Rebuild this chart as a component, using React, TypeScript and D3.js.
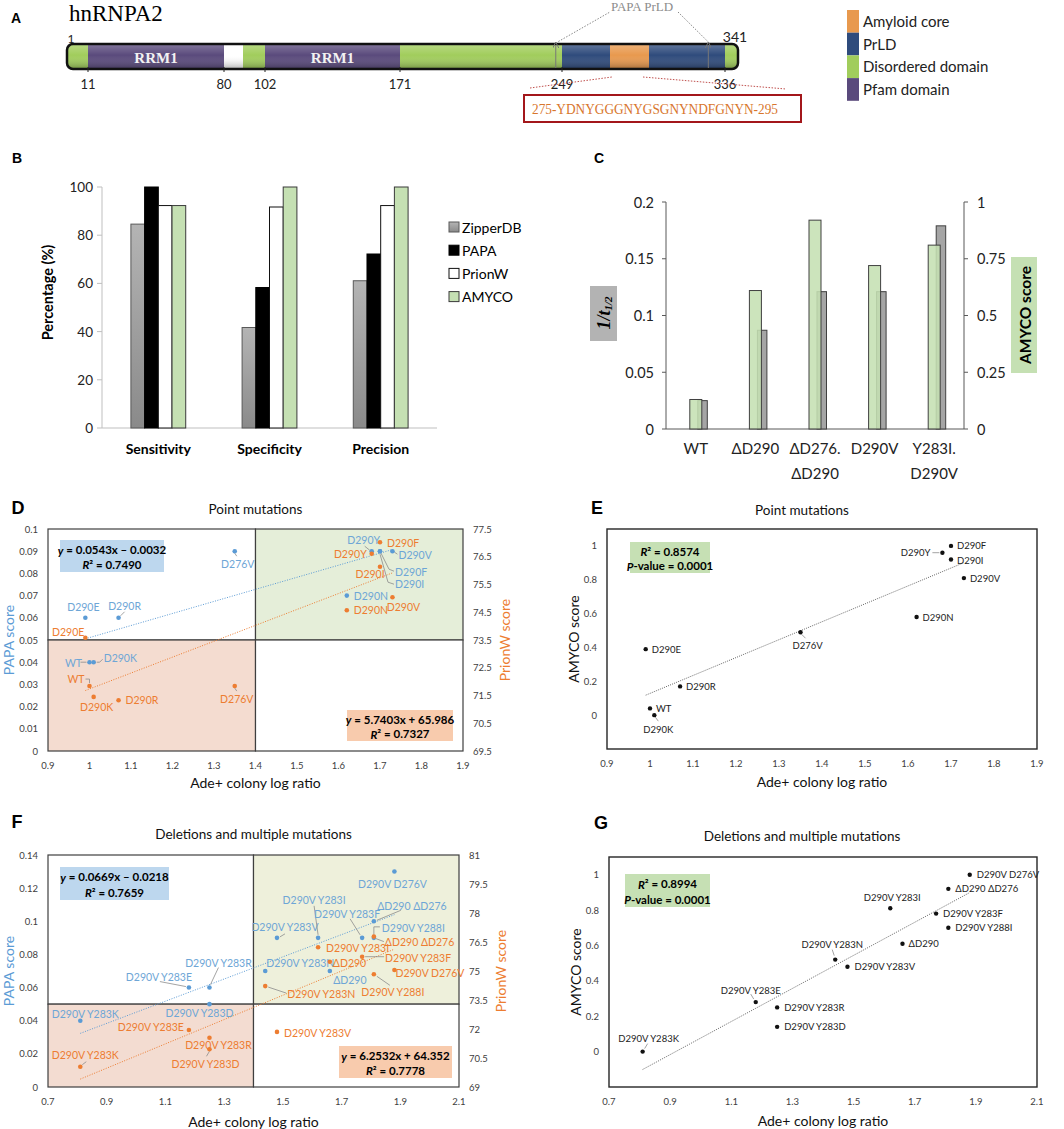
import React from "react";
import * as d3 from "d3";

// ---------- A: hnRNPA2 domain map ----------
const residueBreaks = [1, 11, 80, 90, 102, 171, 249, 275, 295, 336, 341];
const segStart = [1, 11, 80, 90, 102, 171, 249, 275, 295, 336];
const segEnd = [11, 80, 90, 102, 171, 249, 275, 295, 336, 341];
const segType = ["Disordered domain", "Pfam domain", "gap", "Disordered domain", "Pfam domain", "Disordered domain", "PrLD", "Amyloid core", "PrLD", "Disordered domain"];
const belowTicks = [11, 80, 102, 171, 249, 336];
const aboveTicks = [1, 341];
const papaPrld = [246, 327];
const coreSeq = "275-YDNYGGGNYGSGNYNDFGNYN-295";
const legendA = ["Amyloid core", "PrLD", "Disordered domain", "Pfam domain"];

// ---------- B: predictor performance ----------
const metrics = ["Sensitivity", "Specificity", "Precision"];
const predictors = ["ZipperDB", "PAPA", "PrionW", "AMYCO"];
const zipperdbPct = [84.6, 41.7, 61.1];
const papaPct = [100, 58.3, 72.2];
const prionwPct = [92.3, 91.7, 92.3];
const amycoPct = [92.3, 100, 100];
const pctTicks = [0, 20, 40, 60, 80, 100];

// ---------- C: aggregation rate vs AMYCO ----------
const variantsC = ["WT", "ΔD290", "ΔD276.\nΔD290", "D290V", "Y283I.\nD290V"];
const invHalfLife = [0.025, 0.087, 0.121, 0.121, 0.179];
const amycoC = [0.13, 0.61, 0.92, 0.72, 0.81];
const halfLifeTicks = [0, 0.05, 0.1, 0.15, 0.2];
const amycoTicksC = [0, 0.25, 0.5, 0.75, 1];

// ---------- D/E: point mutations ----------
const pointNames = ["WT", "D290E", "D290R", "D290K", "D276V", "D290N", "D290Y", "D290F", "D290I", "D290V"];
const pointAde = [1.0, 0.99, 1.07, 1.01, 1.35, 1.62, 1.68, 1.7, 1.7, 1.73];
const pointPapa = [0.04, 0.06, 0.06, 0.04, 0.09, 0.07, 0.09, 0.09, 0.09, 0.09];
const pointPrionW = [71.84, 73.58, 71.33, 71.45, 71.84, 74.57, 76.61, 77.02, 76.14, 75.04];
const pointAmyco = [0.04, 0.39, 0.17, 0.0, 0.49, 0.58, 0.96, 1.0, 0.92, 0.81];
const dXTicks = [0.9, 1, 1.1, 1.2, 1.3, 1.4, 1.5, 1.6, 1.7, 1.8, 1.9];
const dPapaTicks = [0, 0.01, 0.02, 0.03, 0.04, 0.05, 0.06, 0.07, 0.08, 0.09, 0.1];
const dPrionTicks = [69.5, 70.5, 71.5, 72.5, 73.5, 74.5, 75.5, 76.5, 77.5];

// ---------- F/G: deletions and multiple mutations ----------
const multiNames = ["D290V Y283K", "D290V Y283E", "D290V Y283R", "D290V Y283D", "D290V Y283N", "D290V Y283V", "D290V Y283I", "ΔD290", "D290V Y283F", "ΔD290 ΔD276", "D290V Y288I", "D290V D276V"];
const multiAde = [0.81, 1.18, 1.25, 1.25, 1.44, 1.48, 1.62, 1.66, 1.77, 1.81, 1.81, 1.88];
const multiPapa = [0.04, 0.06, 0.06, 0.05, 0.07, 0.09, 0.09, 0.07, 0.09, 0.1, 0.09, 0.13];
const multiPrionW = [70.05, 71.95, 71.55, 70.95, 74.22, 71.85, 76.23, 75.48, 75.74, 76.78, 74.83, 75.05];
const multiAmyco = [0.0, 0.28, 0.25, 0.14, 0.52, 0.48, 0.81, 0.61, 0.78, 0.92, 0.7, 1.0];
const fXTicks = [0.7, 0.9, 1.1, 1.3, 1.5, 1.7, 1.9, 2.1];
const fPapaTicks = [0, 0.02, 0.04, 0.06, 0.08, 0.1, 0.12, 0.14];
const fPrionTicks = [69, 70.5, 72, 73.5, 75, 76.5, 78, 79.5, 81];
const amycoTicks = [0, 0.2, 0.4, 0.6, 0.8, 1];

// label placement (layout only)
type Lab = { dx?: number; dy?: number; a?: "start" | "middle" | "end"; ld?: [number, number][] };
const pointPapaLab: Record<string, Lab> = {
  WT: { dx: -16, dy: 1, a: "middle", ld: [[-9, 0], [-3, 0]] },
  D290E: { dx: -2, dy: -11, a: "middle" },
  D290R: { dx: 6, dy: -12, a: "middle", ld: [[2, -2], [6, -6]] },
  D290K: { dx: 10, dy: -4, a: "start", ld: [[3, 0], [6, 0], [9, -3]] },
  D276V: { dx: 3, dy: 13, a: "middle", ld: [[0, 2], [2, 5]] },
  D290N: { dx: 7 },
  D290Y: { dx: -8, dy: -11, a: "middle", ld: [[-7, -5], [-2, -1]] },
  D290F: { dx: 15, dy: 21, ld: [[1, 2], [9, 18], [14, 20]] },
  D290I: { dx: 15, dy: 33, ld: [[0, 3], [8, 31], [14, 33]] },
  D290V: { dx: 6, dy: 4, ld: [[2, 1], [5, 3]] },
};
const pointPrionLab: Record<string, Lab> = {
  WT: { dx: -5, dy: -7, a: "end", ld: [[-4, -7], [0, -7], [0, -3]] },
  D290E: { dx: -1, dy: -6, a: "end" },
  D290R: { dx: 7 },
  D290K: { dx: 3, dy: 10, a: "middle" },
  D276V: { dx: 2, dy: 13, a: "middle", ld: [[0, 2], [2, 5]] },
  D290N: { dx: 7 },
  D290Y: { dx: -5, a: "end" },
  D290F: { dx: 7, dy: 1 },
  D290I: { dx: -10, dy: 7, a: "middle" },
  D290V: { dx: 11, dy: 10, a: "middle" },
};
const pointAmycoLab: Record<string, Lab> = {
  WT: { dx: 6 },
  D290E: { dx: 6 },
  D290R: { dx: 6 },
  D290K: { dx: 4, dy: 14, a: "middle", ld: [[1, 2], [4, 6]] },
  D276V: { dx: 7, dy: 13, a: "middle", ld: [[1, 2], [5, 6]] },
  D290N: { dx: 6 },
  D290Y: { dx: -12, a: "end", ld: [[-10, 0], [-3, 0]] },
  D290F: { dx: 6 },
  D290I: { dx: 6, dy: 1 },
  D290V: { dx: 6 },
};
const multiPapaLab: Record<string, Lab> = {
  "D290V Y283K": { dx: 5, dy: -7, a: "middle" },
  "D290V Y283E": { dx: -30, dy: -11, a: "middle", ld: [[-29, -6], [-3, -1]] },
  "D290V Y283R": { dx: 9, dy: -25, a: "middle", ld: [[1, -3], [9, -20]] },
  "D290V Y283D": { dx: -10, dy: 9, a: "middle" },
  "D290V Y283N": { dx: 1, dy: -8 },
  "D290V Y283V": { dx: 8, dy: -11, a: "middle", ld: [[3, -1], [8, -4]] },
  "D290V Y283I": { dx: -4, dy: -38, a: "middle", ld: [[-4, -32], [0, -3]] },
  "ΔD290": { dx: 20, dy: 9, a: "middle" },
  "D290V Y283F": { dx: -15, dy: -24, a: "middle", ld: [[-12, -19], [-2, -3]] },
  "ΔD290 ΔD276": { dx: 38, dy: -15, a: "middle", ld: [[3, -1], [27, -11]] },
  "D290V Y288I": { dx: 8, dy: -10, ld: [[0, -3], [0, -11], [6, -11]] },
  "D290V D276V": { dx: -2, dy: 12, a: "middle" },
};
const multiPrionLab: Record<string, Lab> = {
  "D290V Y283K": { dx: 5, dy: -12, a: "middle", ld: [[2, -2], [6, -5]] },
  "D290V Y283E": { dx: -5, dy: -3, a: "end" },
  "D290V Y283R": { dx: 9, dy: 7, a: "middle" },
  "D290V Y283D": { dx: -4, dy: 15, a: "middle", ld: [[0, 2], [-3, 7]] },
  "D290V Y283N": { dx: 22, dy: 8, ld: [[3, 1], [21, 7]] },
  "D290V Y283V": { dx: 7, dy: 1 },
  "D290V Y283I": { dx: 8, dy: 1 },
  "ΔD290": { dx: 3, dy: 1 },
  "D290V Y283F": { dx: 23, dy: 1, ld: [[3, 0], [22, 0]] },
  "ΔD290 ΔD276": { dx: 11, dy: 5, ld: [[2, 2], [10, 5]] },
  "D290V Y288I": { dx: 19, dy: 18, a: "middle", ld: [[3, 2], [16, 11]] },
  "D290V D276V": { dx: 1, dy: 3 },
};
const multiAmycoLab: Record<string, Lab> = {
  "D290V Y283K": { dx: 6, dy: -13, a: "middle", ld: [[5, -8], [2, -3]] },
  "D290V Y283E": { dx: -5, dy: -12, a: "middle", ld: [[-5, -8], [-2, -3]] },
  "D290V Y283R": { dx: 7 },
  "D290V Y283D": { dx: 7 },
  "D290V Y283N": { dx: -3, dy: -15, a: "middle", ld: [[-3, -10], [-1, -4]] },
  "D290V Y283V": { dx: 7 },
  "D290V Y283I": { dx: 2, dy: -11, a: "middle" },
  "ΔD290": { dx: 6 },
  "D290V Y283F": { dx: 7 },
  "ΔD290 ΔD276": { dx: 7 },
  "D290V Y288I": { dx: 7 },
  "D290V D276V": { dx: 7 },
};

const sans = "Lato, 'Open Sans', sans-serif";
const serif = "'Liberation Serif', 'DejaVu Serif', serif";
const arial = "'Liberation Sans', Arial, sans-serif";
const BLUE = "#5b9bd5";
const BLUE_TXT = "#6ea6d6";
const ORANGE = "#ed7d31";
const AXIS_TXT = "#404040";

function fit(xs: number[], ys: number[]) {
  const mx = d3.mean(xs)!, my = d3.mean(ys)!;
  let sxy = 0, sxx = 0;
  xs.forEach((x, i) => {
    sxy += (x - mx) * (ys[i] - my);
    sxx += (x - mx) * (x - mx);
  });
  const m = sxy / sxx;
  return { m, b: my - m * mx };
}

const fmt = (v: number) => String(+v.toFixed(3));

function ItalicFirst({ s }: { s: string }) {
  return (
    <>
      <tspan fontStyle="italic">{s[0]}</tspan>
      {s.slice(1)}
    </>
  );
}

function EqBox({ x, y, w, h, fill, lines }: { x: number; y: number; w: number; h: number; fill: string; lines: string[] }) {
  return (
    <g>
      <rect x={x} y={y} width={w} height={h} fill={fill} />
      {lines.map((l, i) => (
        <text key={i} x={x + w / 2} y={y + h * (i === 0 ? 0.3 : 0.76)} textAnchor="middle" dominantBaseline="central" fontWeight="bold" fontSize={11.5} fontFamily={sans}>
          <ItalicFirst s={l} />
        </text>
      ))}
    </g>
  );
}

function PointLabel({ px, py, name, lab, color, size }: { px: number; py: number; name: string; lab: Lab; color: string; size: number }) {
  return (
    <g>
      {lab.ld && (
        <polyline points={lab.ld.map(([a, b]) => `${px + a},${py + b}`).join(" ")} fill="none" stroke="#8c8c8c" strokeWidth={0.8} />
      )}
      <text x={px + (lab.dx ?? 0)} y={py + (lab.dy ?? 0)} textAnchor={lab.a ?? "start"} dominantBaseline="central" fontSize={size} fill={color}>
        {name}
      </text>
    </g>
  );
}

// ---------- A ----------
function PanelA() {
  const rx = d3.scaleLinear().domain(residueBreaks).range([69, 88, 224, 243, 265, 400, 562, 610, 649, 725, 735]);
  const fill: Record<string, string> = {
    "Amyloid core": "#e8994e",
    PrLD: "#2f4b7c",
    "Disordered domain": "#a1cd5c",
    "Pfam domain": "#5a4a7c",
    gap: "#ffffff",
  };
  const y0 = 44, h = 25;
  const left = rx(1) - 2, right = rx(341) + 3;
  const pfam = segType.map((t, i) => (t === "Pfam domain" ? i : -1)).filter((i) => i >= 0);
  return (
    <g>
      <defs>
        <clipPath id="barClip">
          <rect x={left} y={y0} width={right - left} height={h} rx={6} />
        </clipPath>
        <linearGradient id="gloss" x1="0" y1="0" x2="0" y2="1">
          <stop offset="0" stopColor="#fff" stopOpacity={0.25} />
          <stop offset="0.45" stopColor="#fff" stopOpacity={0} />
          <stop offset="1" stopColor="#000" stopOpacity={0.3} />
        </linearGradient>
      </defs>
      <text x={16} y={18} fontFamily={arial} fontWeight="bold" fontSize={14} textAnchor="middle" dominantBaseline="central">A</text>
      <text x={69} y={21} fontFamily={serif} fontSize={23}>hnRNPA2</text>
      <g clipPath="url(#barClip)">
        {segStart.map((s, i) => {
          const xa = i === 0 ? left : rx(s);
          const xb = i === segStart.length - 1 ? right : rx(segEnd[i]);
          return <rect key={i} x={xa} y={y0} width={xb - xa} height={h} fill={fill[segType[i]]} />;
        })}
        <rect x={left} y={y0} width={right - left} height={h} fill="url(#gloss)" />
      </g>
      <rect x={left} y={y0} width={right - left} height={h} rx={6} fill="none" stroke="#111" strokeWidth={2.5} />
      {pfam.map((i) => (
        <text key={i} x={(rx(segStart[i]) + rx(segEnd[i])) / 2} y={y0 + h / 2 + 1} textAnchor="middle" dominantBaseline="central" fontFamily={serif} fontWeight="bold" fontSize={15} fill="#f2f2f2">
          RRM1
        </text>
      ))}
      {belowTicks.map((t) => (
        <g key={t}>
          <line x1={rx(t)} x2={rx(t)} y1={y0 + h - 2} y2={y0 + h + 3} stroke="#222" strokeWidth={1} />
          <text x={rx(t)} y={y0 + h + 15} textAnchor="middle" dominantBaseline="central" fontFamily={sans} fontSize={13} fill="#222">{t}</text>
        </g>
      ))}
      {aboveTicks.map((t, i) => (
        <text key={t} x={rx(t) + (i === 0 ? 2 : 0)} y={i === 0 ? 38 : 36} textAnchor="middle" dominantBaseline="central" fontFamily={sans} fontSize={i === 0 ? 12 : 14} fill="#222">{t}</text>
      ))}
      {/* PAPA PrLD */}
      {papaPrld.map((r) => (
        <line key={r} x1={rx(r)} x2={rx(r)} y1={y0 + h - 1} y2={y0 + 1} stroke="#777" strokeWidth={1} markerEnd="url(#arrowG)" />
      ))}
      <defs>
        <marker id="arrowG" viewBox="0 0 6 6" refX={3} refY={3} markerWidth={6} markerHeight={6} orient="auto">
          <path d="M0,0 L6,3 L0,6" fill="none" stroke="#777" strokeWidth={1} />
        </marker>
      </defs>
      <text x={(rx(papaPrld[0]) + rx(papaPrld[1])) / 2 + 10} y={6} textAnchor="middle" dominantBaseline="central" fontFamily={serif} fontSize={13} fill="#8c8c8c">PAPA PrLD</text>
      <line x1={rx(papaPrld[0])} y1={y0 - 1} x2={610} y2={12} stroke="#888" strokeDasharray="1.5 1.5" />
      <line x1={678} y1={12} x2={rx(papaPrld[1])} y2={y0 - 2} stroke="#888" strokeDasharray="1.5 1.5" />
      {/* amyloid core zoom */}
      <line x1={530} y1={88} x2={rx(275) + 2} y2={77} stroke="#c0504d" strokeDasharray="1.5 1.5" />
      <line x1={rx(295) - 6} y1={77} x2={786} y2={89} stroke="#c0504d" strokeDasharray="1.5 1.5" />
      <rect x={524} y={95} width={277} height={27} fill="#fff" stroke="#a3171b" strokeWidth={2} />
      <text x={532} y={109} dominantBaseline="central" fontFamily={serif} fontSize={14} fill="#d8762c" textLength={246} lengthAdjust="spacingAndGlyphs">{coreSeq}</text>
      {/* legend */}
      {legendA.map((l, i) => (
        <g key={l}>
          <rect x={847} y={10 + i * 22.7} width={12} height={22.7} fill={fill[l]} />
          <text x={863} y={21 + i * 22.7} dominantBaseline="central" fontFamily={sans} fontSize={15} fill="#222">{l}</text>
        </g>
      ))}
    </g>
  );
}

// ---------- B ----------
function PanelB() {
  const x0 = d3.scaleBand().domain(metrics).range([102, 437]).paddingInner(0.507).paddingOuter(0.26);
  const x1 = d3.scaleBand().domain(predictors).range([0, x0.bandwidth()]);
  const y = d3.scaleLinear().domain([0, 100]).range([428, 187]);
  const series = [zipperdbPct, papaPct, prionwPct, amycoPct];
  const fills = ["url(#zipGrad)", "#000", "#fff", "#c5e0b3"];
  const strokes = ["#595959", "#000", "#111", "#3a3a3a"];
  return (
    <g fontFamily={sans}>
      <defs>
        <linearGradient id="zipGrad" x1="0" y1="0" x2="0" y2="1">
          <stop offset="0" stopColor="#b4b4b4" />
          <stop offset="1" stopColor="#8a8a8a" />
        </linearGradient>
      </defs>
      <text x={17} y={158} fontFamily={arial} fontWeight="bold" fontSize={14} textAnchor="middle" dominantBaseline="central">B</text>
      <line x1={102} x2={102} y1={y(100)} y2={y(0)} stroke="#bfbfbf" />
      <line x1={102} x2={437} y1={y(0)} y2={y(0)} stroke="#bfbfbf" />
      {pctTicks.map((t) => (
        <g key={t}>
          <line x1={97} x2={102} y1={y(t)} y2={y(t)} stroke="#bfbfbf" />
          <text x={93} y={y(t)} textAnchor="end" dominantBaseline="central" fontSize={13.5} fill="#222">{t}</text>
        </g>
      ))}
      <text transform={`translate(47,${(y(0) + y(100)) / 2 - 15}) rotate(-90)`} textAnchor="middle" dominantBaseline="central" fontWeight="bold" fontSize={14.5}>Percentage (%)</text>
      {metrics.map((m, mi) => (
        <g key={m}>
          {predictors.map((p, pi) => (
            <rect key={p} x={x0(m)! + x1(p)!} y={y(series[pi][mi])} width={x1.bandwidth()} height={y(0) - y(series[pi][mi])} fill={fills[pi]} stroke={strokes[pi]} strokeWidth={1} />
          ))}
          <text x={x0(m)! + x0.bandwidth() / 2} y={448} textAnchor="middle" dominantBaseline="central" fontWeight="bold" fontSize={14}>{m}</text>
        </g>
      ))}
      {predictors.map((p, pi) => (
        <g key={p}>
          <rect x={449} y={222 + pi * 23.2} width={10} height={10} fill={fills[pi]} stroke={strokes[pi]} />
          <text x={462} y={227 + pi * 23.2} dominantBaseline="central" fontSize={14}>{p}</text>
        </g>
      ))}
    </g>
  );
}

// ---------- C ----------
function PanelC() {
  const x = d3.scaleBand().domain(variantsC).range([666, 964]);
  const yl = d3.scaleLinear().domain([0, 0.2]).range([429, 202]);
  const yr = d3.scaleLinear().domain([0, 1]).range([429, 202]);
  const bw = x.bandwidth();
  return (
    <g fontFamily={sans}>
      <text x={599} y={158} fontFamily={arial} fontWeight="bold" fontSize={14} textAnchor="middle" dominantBaseline="central">C</text>
      <line x1={666} x2={666} y1={202} y2={429} stroke="#595959" />
      <line x1={964} x2={964} y1={202} y2={429} stroke="#595959" />
      <line x1={666} x2={964} y1={429} y2={429} stroke="#595959" />
      {halfLifeTicks.map((t) => (
        <g key={t}>
          <line x1={662} x2={666} y1={yl(t)} y2={yl(t)} stroke="#595959" />
          <text x={654} y={yl(t)} textAnchor="end" dominantBaseline="central" fontSize={14.5} fill="#222">{fmt(t)}</text>
        </g>
      ))}
      {amycoTicksC.map((t) => (
        <g key={t}>
          <line x1={964} x2={968} y1={yr(t)} y2={yr(t)} stroke="#595959" />
          <text x={977} y={yr(t)} dominantBaseline="central" fontSize={14.5} fill="#222">{fmt(t)}</text>
        </g>
      ))}
      {variantsC.map((v, i) => {
        const c = x(v)! + bw / 2;
        return (
          <g key={v}>
            <rect x={c + 2} y={yl(invHalfLife[i])} width={9.5} height={429 - yl(invHalfLife[i])} fill="#a5a5a5" stroke="#404040" strokeWidth={1} />
            <rect x={c - 6} y={yr(amycoC[i])} width={12} height={429 - yr(amycoC[i])} fill="#c5e0b3" fillOpacity={0.88} stroke="#404040" strokeWidth={1} />
            {v.split("\n").map((line, li) => (
              <text key={li} x={c} y={448 + li * 25} textAnchor="middle" dominantBaseline="central" fontSize={15} fill="#222">{line}</text>
            ))}
          </g>
        );
      })}
      <rect x={590} y={286} width={27} height={55} fill="#b3b3b3" />
      <text transform="translate(604,313) rotate(-90)" textAnchor="middle" dominantBaseline="central" fontFamily={serif} fontStyle="italic" fontWeight="bold" fontSize={18}>
        1/t<tspan fontSize={11} dy={4}>1/2</tspan>
      </text>
      <rect x={1011} y={257} width={26} height={116} fill="#c5e0b3" />
      <text transform="translate(1025,315) rotate(-90)" textAnchor="middle" dominantBaseline="central" fontWeight="bold" fontSize={15.5}>AMYCO score</text>
    </g>
  );
}

// ---------- D / F ----------
type Box = { x0: number; x1: number; y0: number; y1: number };
type EqPos = { x: number; y: number; w: number; h: number };
interface DualProps {
  letter: string;
  letterX: number;
  letterY: number;
  title: string;
  titleY: number;
  box: Box;
  xDom: [number, number];
  yDom: [number, number];
  rDom: [number, number];
  xTicks: number[];
  yTicks: number[];
  rTicks: number[];
  xSplit: number;
  ySplit: number;
  green: string;
  salmon: string;
  names: string[];
  ade: number[];
  papa: number[];
  prionw: number[];
  papaLab: Record<string, Lab>;
  prionLab: Record<string, Lab>;
  blueBox: EqPos;
  orangeBox: EqPos;
  blueEq: string[];
  orangeEq: string[];
  xLabelY: number;
}

function DualScatter(p: DualProps) {
  const { box } = p;
  const x = d3.scaleLinear().domain(p.xDom).range([box.x0, box.x1]);
  const y = d3.scaleLinear().domain(p.yDom).range([box.y1, box.y0]);
  const r = d3.scaleLinear().domain(p.rDom).range([box.y1, box.y0]);
  const sx = x(p.xSplit), sy = y(p.ySplit);
  const fb = fit(p.ade, p.papa), fo = fit(p.ade, p.prionw);
  const [xa, xb] = d3.extent(p.ade) as [number, number];
  const cy = (box.y0 + box.y1) / 2;
  const qs = "#3f3f3f";
  return (
    <g fontFamily={sans}>
      <text x={p.letterX} y={p.letterY} fontFamily={arial} fontWeight="bold" fontSize={18} textAnchor="middle" dominantBaseline="central">{p.letter}</text>
      <text x={(box.x0 + box.x1) / 2} y={p.titleY} textAnchor="middle" dominantBaseline="central" fontSize={13.5} fill="#111">{p.title}</text>
      <rect x={box.x0} y={box.y0} width={sx - box.x0} height={sy - box.y0} fill="#fff" stroke={qs} strokeWidth={1.2} />
      <rect x={sx} y={box.y0} width={box.x1 - sx} height={sy - box.y0} fill={p.green} stroke={qs} strokeWidth={1.2} />
      <rect x={box.x0} y={sy} width={sx - box.x0} height={box.y1 - sy} fill={p.salmon} stroke={qs} strokeWidth={1.2} />
      <rect x={sx} y={sy} width={box.x1 - sx} height={box.y1 - sy} fill="#fff" stroke={qs} strokeWidth={1.2} />
      {p.xTicks.map((t) => (
        <text key={t} x={x(t)} y={box.y1 + 14} textAnchor="middle" dominantBaseline="central" fontSize={9.5} fill={AXIS_TXT}>{fmt(t)}</text>
      ))}
      {p.yTicks.map((t) => (
        <text key={t} x={box.x0 - 10} y={y(t)} textAnchor="end" dominantBaseline="central" fontSize={9.5} fill={AXIS_TXT}>{fmt(t)}</text>
      ))}
      {p.rTicks.map((t) => (
        <text key={t} x={box.x1 + 10} y={r(t)} dominantBaseline="central" fontSize={9.5} fill={AXIS_TXT}>{fmt(t)}</text>
      ))}
      <text x={(box.x0 + box.x1) / 2} y={p.xLabelY} textAnchor="middle" dominantBaseline="central" fontSize={14} fill="#111">Ade+ colony log ratio</text>
      <text transform={`translate(8,${cy}) rotate(-90)`} textAnchor="middle" dominantBaseline="central" fontSize={14} fill={BLUE}>PAPA score</text>
      <text transform={`translate(${box.x1 + 41},${cy}) rotate(-90)`} textAnchor="middle" dominantBaseline="central" fontSize={14} fill={ORANGE}>PrionW score</text>
      <line x1={x(xa)} x2={x(xb)} y1={y(fb.m * xa + fb.b)} y2={y(fb.m * xb + fb.b)} stroke={BLUE} strokeWidth={1} strokeDasharray="1 1.5" />
      <line x1={x(xa)} x2={x(xb)} y1={r(fo.m * xa + fo.b)} y2={r(fo.m * xb + fo.b)} stroke={ORANGE} strokeWidth={1} strokeDasharray="1 1.5" />
      {p.names.map((n, i) => (
        <PointLabel key={"b" + n} px={x(p.ade[i])} py={y(p.papa[i])} name={n} lab={p.papaLab[n] ?? {}} color={BLUE_TXT} size={10.5} />
      ))}
      {p.names.map((n, i) => (
        <PointLabel key={"o" + n} px={x(p.ade[i])} py={r(p.prionw[i])} name={n} lab={p.prionLab[n] ?? {}} color={ORANGE} size={10.5} />
      ))}
      {p.names.map((n, i) => (
        <circle key={"bc" + n} cx={x(p.ade[i])} cy={y(p.papa[i])} r={2.3} fill={BLUE} />
      ))}
      {p.names.map((n, i) => (
        <circle key={"oc" + n} cx={x(p.ade[i])} cy={r(p.prionw[i])} r={2.3} fill={ORANGE} />
      ))}
      <EqBox {...p.blueBox} fill="#bdd7ee" lines={p.blueEq} />
      <EqBox {...p.orangeBox} fill="#f8cbad" lines={p.orangeEq} />
    </g>
  );
}

// ---------- E / G ----------
interface AmyProps {
  letter: string;
  letterX: number;
  letterY: number;
  title: string;
  titleX: number;
  titleY: number;
  box: Box;
  xDom: [number, number];
  xTicks: number[];
  names: string[];
  ade: number[];
  amyco: number[];
  labs: Record<string, Lab>;
  eqBox: EqPos;
  eq: string[];
  xLabelY: number;
}

function AmycoScatter(p: AmyProps) {
  const { box } = p;
  const x = d3.scaleLinear().domain(p.xDom).range([box.x0, box.x1]);
  const y = d3.scaleLinear().domain([-0.2, 1.1]).range([box.y1, box.y0]);
  const f = fit(p.ade, p.amyco);
  const [xa, xb] = d3.extent(p.ade) as [number, number];
  return (
    <g fontFamily={sans}>
      <text x={p.letterX} y={p.letterY} fontFamily={arial} fontWeight="bold" fontSize={18} textAnchor="middle" dominantBaseline="central">{p.letter}</text>
      <text x={p.titleX} y={p.titleY} textAnchor="middle" dominantBaseline="central" fontSize={13.5} fill="#111">{p.title}</text>
      <rect x={box.x0} y={box.y0} width={box.x1 - box.x0} height={box.y1 - box.y0} fill="#fff" stroke="#262626" strokeWidth={1.4} />
      {p.xTicks.map((t) => (
        <text key={t} x={x(t)} y={box.y1 + 14} textAnchor="middle" dominantBaseline="central" fontSize={9.5} fill={AXIS_TXT}>{fmt(t)}</text>
      ))}
      {amycoTicks.map((t) => (
        <text key={t} x={box.x0 - 10} y={y(t)} textAnchor="end" dominantBaseline="central" fontSize={9.5} fill={AXIS_TXT}>{fmt(t)}</text>
      ))}
      <text x={(box.x0 + box.x1) / 2} y={p.xLabelY} textAnchor="middle" dominantBaseline="central" fontSize={14} fill="#111">Ade+ colony log ratio</text>
      <text transform={`translate(${box.x0 - 34},${(box.y0 + box.y1) / 2}) rotate(-90)`} textAnchor="middle" dominantBaseline="central" fontSize={14} fill="#111">AMYCO score</text>
      <line x1={x(xa)} x2={x(xb)} y1={y(f.m * xa + f.b)} y2={y(f.m * xb + f.b)} stroke="#666" strokeWidth={1} strokeDasharray="1 1.2" />
      {p.names.map((n, i) => (
        <PointLabel key={"l" + n} px={x(p.ade[i])} py={y(p.amyco[i])} name={n} lab={p.labs[n] ?? {}} color="#222" size={9.5} />
      ))}
      {p.names.map((n, i) => (
        <circle key={"c" + n} cx={x(p.ade[i])} cy={y(p.amyco[i])} r={2.2} fill="#111" />
      ))}
      <EqBox {...p.eqBox} fill="#c6e0b4" lines={p.eq} />
    </g>
  );
}

export default function App() {
  return (
    <div style={{ position: "absolute", left: 0, top: 0 }}>
      <svg width={1064} height={1129} viewBox="0 0 1064 1129" style={{ display: "block", background: "#fff" }}>
        <rect width={1064} height={1129} fill="#fff" />
        <PanelA />
        <PanelB />
        <PanelC />
        <DualScatter
          letter="D" letterX={18} letterY={508}
          title="Point mutations" titleY={509}
          box={{ x0: 48, x1: 463, y0: 529, y1: 751 }}
          xDom={[0.9, 1.9]} yDom={[0, 0.1]} rDom={[69.5, 77.5]}
          xTicks={dXTicks} yTicks={dPapaTicks} rTicks={dPrionTicks}
          xSplit={1.4} ySplit={0.05}
          green="#e5eed9" salmon="#f4dcd0"
          names={pointNames} ade={pointAde} papa={pointPapa} prionw={pointPrionW}
          papaLab={pointPapaLab} prionLab={pointPrionLab}
          blueBox={{ x: 60, y: 540, w: 104, h: 32 }}
          orangeBox={{ x: 347, y: 710, w: 106, h: 31 }}
          blueEq={["y = 0.0543x – 0.0032", "R² = 0.7490"]}
          orangeEq={["y = 5.7403x + 65.986", "R² = 0.7327"]}
          xLabelY={782}
        />
        <AmycoScatter
          letter="E" letterX={597} letterY={508}
          title="Point mutations" titleX={802} titleY={510}
          box={{ x0: 607, x1: 1037, y0: 529, y1: 749 }}
          xDom={[0.9, 1.9]} xTicks={dXTicks}
          names={pointNames} ade={pointAde} amyco={pointAmyco} labs={pointAmycoLab}
          eqBox={{ x: 630, y: 542, w: 80, h: 31 }}
          eq={["R² = 0.8574", "P-value = 0.0001"]}
          xLabelY={781}
        />
        <DualScatter
          letter="F" letterX={17} letterY={822}
          title="Deletions and multiple mutations" titleY={834}
          box={{ x0: 48, x1: 459, y0: 855, y1: 1087 }}
          xDom={[0.7, 2.1]} yDom={[0, 0.14]} rDom={[69, 81]}
          xTicks={fXTicks} yTicks={fPapaTicks} rTicks={fPrionTicks}
          xSplit={1.4} ySplit={0.05}
          green="#eef0db" salmon="#f3dcd1"
          names={multiNames} ade={multiAde} papa={multiPapa} prionw={multiPrionW}
          papaLab={multiPapaLab} prionLab={multiPrionLab}
          blueBox={{ x: 60, y: 867, w: 109, h: 33 }}
          orangeBox={{ x: 339, y: 1046, w: 113, h: 32 }}
          blueEq={["y = 0.0669x – 0.0218", "R² = 0.7659"]}
          orangeEq={["y = 6.2532x + 64.352", "R² = 0.7778"]}
          xLabelY={1121}
        />
        <AmycoScatter
          letter="G" letterX={601} letterY={823}
          title="Deletions and multiple mutations" titleX={802} titleY={836}
          box={{ x0: 609, x1: 1037, y0: 857, y1: 1087 }}
          xDom={[0.7, 2.1]} xTicks={fXTicks}
          names={multiNames} ade={multiAde} amyco={multiAmyco} labs={multiAmycoLab}
          eqBox={{ x: 625, y: 874, w: 85, h: 33 }}
          eq={["R² = 0.8994", "P-value = 0.0001"]}
          xLabelY={1120}
        />
      </svg>
    </div>
  );
}
